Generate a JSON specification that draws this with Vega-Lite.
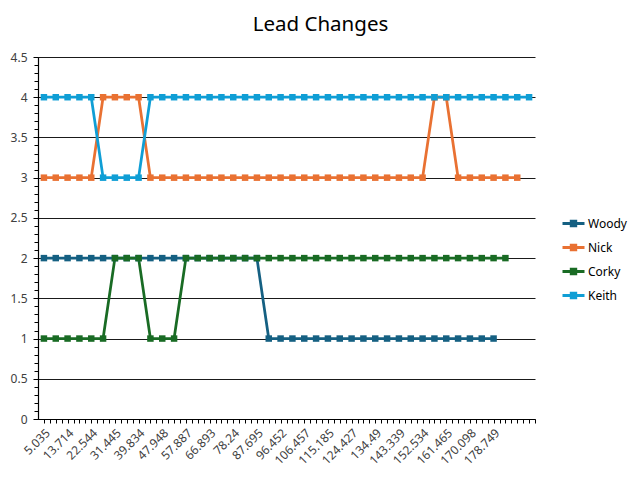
{
  "$schema": "https://vega.github.io/schema/vega-lite/v6.json",
  "width": 497,
  "height": 362,
  "autosize": {"type": "none"},
  "padding": {"left": 38, "top": 57, "right": 107, "bottom": 61},
  "background": "white",
  "title": {"text": "Lead Changes", "fontSize": 20.5, "font": "Noto Sans", "fontWeight": "normal", "color": "#000000", "anchor": "middle", "dx": 34, "offset": 16},
  "config": {"view": {"stroke": null}, "font": "Noto Sans"},
  "data": {"values": [
    {"t": "5.035", "Woody": 2, "Nick": 3, "Corky": 1, "Keith": 4},
    {"t": "9.375", "Woody": 2, "Nick": 3, "Corky": 1, "Keith": 4},
    {"t": "13.714", "Woody": 2, "Nick": 3, "Corky": 1, "Keith": 4},
    {"t": "18.129", "Woody": 2, "Nick": 3, "Corky": 1, "Keith": 4},
    {"t": "22.544", "Woody": 2, "Nick": 3, "Corky": 1, "Keith": 4},
    {"t": "26.995", "Woody": 2, "Nick": 4, "Corky": 1, "Keith": 3},
    {"t": "31.445", "Woody": 2, "Nick": 4, "Corky": 2, "Keith": 3},
    {"t": "35.64", "Woody": 2, "Nick": 4, "Corky": 2, "Keith": 3},
    {"t": "39.834", "Woody": 2, "Nick": 4, "Corky": 2, "Keith": 3},
    {"t": "43.891", "Woody": 2, "Nick": 3, "Corky": 1, "Keith": 4},
    {"t": "47.948", "Woody": 2, "Nick": 3, "Corky": 1, "Keith": 4},
    {"t": "52.918", "Woody": 2, "Nick": 3, "Corky": 1, "Keith": 4},
    {"t": "57.887", "Woody": 2, "Nick": 3, "Corky": 2, "Keith": 4},
    {"t": "62.39", "Woody": 2, "Nick": 3, "Corky": 2, "Keith": 4},
    {"t": "66.893", "Woody": 2, "Nick": 3, "Corky": 2, "Keith": 4},
    {"t": "72.567", "Woody": 2, "Nick": 3, "Corky": 2, "Keith": 4},
    {"t": "78.24", "Woody": 2, "Nick": 3, "Corky": 2, "Keith": 4},
    {"t": "82.968", "Woody": 2, "Nick": 3, "Corky": 2, "Keith": 4},
    {"t": "87.695", "Woody": 2, "Nick": 3, "Corky": 2, "Keith": 4},
    {"t": "92.074", "Woody": 1, "Nick": 3, "Corky": 2, "Keith": 4},
    {"t": "96.452", "Woody": 1, "Nick": 3, "Corky": 2, "Keith": 4},
    {"t": "101.455", "Woody": 1, "Nick": 3, "Corky": 2, "Keith": 4},
    {"t": "106.457", "Woody": 1, "Nick": 3, "Corky": 2, "Keith": 4},
    {"t": "110.821", "Woody": 1, "Nick": 3, "Corky": 2, "Keith": 4},
    {"t": "115.185", "Woody": 1, "Nick": 3, "Corky": 2, "Keith": 4},
    {"t": "119.806", "Woody": 1, "Nick": 3, "Corky": 2, "Keith": 4},
    {"t": "124.427", "Woody": 1, "Nick": 3, "Corky": 2, "Keith": 4},
    {"t": "129.459", "Woody": 1, "Nick": 3, "Corky": 2, "Keith": 4},
    {"t": "134.49", "Woody": 1, "Nick": 3, "Corky": 2, "Keith": 4},
    {"t": "138.915", "Woody": 1, "Nick": 3, "Corky": 2, "Keith": 4},
    {"t": "143.339", "Woody": 1, "Nick": 3, "Corky": 2, "Keith": 4},
    {"t": "147.937", "Woody": 1, "Nick": 3, "Corky": 2, "Keith": 4},
    {"t": "152.534", "Woody": 1, "Nick": 3, "Corky": 2, "Keith": 4},
    {"t": "156.999", "Woody": 1, "Nick": 4, "Corky": 2, "Keith": 4},
    {"t": "161.465", "Woody": 1, "Nick": 4, "Corky": 2, "Keith": 4},
    {"t": "165.782", "Woody": 1, "Nick": 3, "Corky": 2, "Keith": 4},
    {"t": "170.098", "Woody": 1, "Nick": 3, "Corky": 2, "Keith": 4},
    {"t": "174.424", "Woody": 1, "Nick": 3, "Corky": 2, "Keith": 4},
    {"t": "178.749", "Woody": 1, "Nick": 3, "Corky": 2, "Keith": 4},
    {"t": "183.1", "Nick": 3, "Corky": 2, "Keith": 4},
    {"t": "187.4", "Nick": 3, "Keith": 4},
    {"t": "191.7", "Keith": 4}
  ]},
  "transform": [
    {"fold": ["Woody", "Nick", "Corky", "Keith"], "as": ["series", "value"]},
    {"filter": "isValid(datum.value)"}
  ],
  "layer": [
    {
      "mark": {"type": "line", "strokeWidth": 2.75, "point": {"shape": "square", "size": 42, "filled": true, "opacity": 1}},
      "encoding": {
        "x": {"field": "t", "type": "ordinal", "sort": null, "title": null,
          "scale": {"type": "point", "padding": 0.5},
          "axis": {"labelExpr": "(round(datum.index*41)%2==0 && round(datum.index*41)<=38) ? datum.label : ''", "labelOverlap": false, "labelAngle": -45, "labelFontSize": 12, "labelColor": "#404040", "labelFont": "Noto Sans", "tickColor": "#000000", "tickSize": 4, "domainColor": "#000000", "domainWidth": 1.2, "labelPadding": 4}},
        "y": {"field": "value", "type": "quantitative", "title": null,
          "scale": {"domain": [0, 4.5], "nice": false},
          "axis": {"values": [0, 0.5, 1, 1.5, 2, 2.5, 3, 3.5, 4, 4.5], "format": "~g", "labelFontSize": 12, "labelColor": "#404040", "labelFont": "Noto Sans", "tickColor": "#000000", "tickSize": 5, "domainColor": "#000000", "domainWidth": 1.2, "gridColor": "#1a1a1a", "gridWidth": 1, "labelPadding": 6}},
        "color": {"field": "series", "type": "nominal",
          "scale": {"domain": ["Woody", "Nick", "Corky", "Keith"], "range": ["#156082", "#E97132", "#196B24", "#0F9ED5"]},
          "legend": {"title": null, "orient": "none", "legendX": 523, "legendY": 154, "symbolType": "M-1,0H1M-0.2,-0.2H0.2V0.2H-0.2Z", "symbolSize": 484, "symbolStrokeWidth": 3, "labelFontSize": 12, "labelColor": "#000000", "labelFont": "Noto Sans", "rowPadding": 3, "labelOffset": 2}}
      }
    },
    {
      "mark": {"type": "point", "opacity": 0},
      "encoding": {
        "x": {"field": "t", "type": "ordinal", "sort": null, "title": null,
          "axis": {"orient": "bottom", "labels": false, "domain": false, "tickColor": "#000000", "tickSize": 4, "tickOffset": 5.92}},
        "y": {"field": "value", "type": "quantitative", "title": null,
          "axis": {"orient": "left", "labels": false, "domain": false, "grid": false, "tickCount": 45, "tickColor": "#000000", "tickSize": 4}}
      }
    }
  ],
  "resolve": {"axis": {"x": "independent", "y": "independent"}}
}
